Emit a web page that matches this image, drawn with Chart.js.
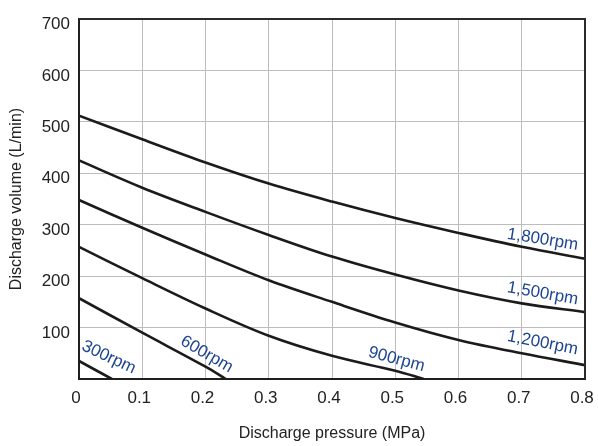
<!DOCTYPE html>
<html>
<head>
<meta charset="utf-8">
<script src="https://cdn.jsdelivr.net/npm/chart.js@4/dist/chart.umd.min.js"></script>
<style>
  html, body { margin: 0; padding: 0; background: #ffffff; }
  #wrap { width: 598px; height: 446px; position: relative; }
</style>
</head>
<body>
<div id="wrap"><canvas id="c" width="598" height="446"></canvas></div>
<script>
// Pump performance: discharge volume vs discharge pressure per shaft speed
const pressure = [0, 0.1, 0.2, 0.3, 0.4, 0.5, 0.6, 0.7, 0.8];
const volume1800 = [512, 466, 421, 380, 345, 313, 284, 257, 234];
const volume1500 = [425, 372, 325, 280, 238, 203, 172, 147, 130];
const volume1200 = [348, 294, 242, 192, 150, 110, 76, 50, 27];

const pressure900 = [0, 0.1, 0.2, 0.3, 0.4, 0.5, 0.545];
const volume900 = [257, 196, 137, 84, 45, 16, 0];

const pressure600 = [0, 0.1, 0.2, 0.232];
const volume600 = [157, 90, 24, 0];

const pressure300 = [0, 0.052];
const volume300 = [35, 0];

const speedNames = ['1,800rpm', '1,500rpm', '1,200rpm', '900rpm', '600rpm', '300rpm'];

const xTickLabels = ['0', '0.1', '0.2', '0.3', '0.4', '0.5', '0.6', '0.7', '0.8'];
const yTickLabels = ['', '100', '200', '300', '400', '500', '600', '700'];

// where each speed name sits along its curve (value units) and its slant in degrees
const nameAnchors = [
  { x: 0.733, y: 271, angle: 9 },
  { x: 0.733, y: 166, angle: 10 },
  { x: 0.733, y: 70, angle: 11 },
  { x: 0.502, y: 38, angle: 15 },
  { x: 0.202, y: 48, angle: 30 },
  { x: 0.047, y: 42, angle: 25 }
];

function toPoints(xs, ys) {
  return xs.map((x, i) => ({ x: x, y: ys[i] }));
}

const curves = [
  toPoints(pressure, volume1800),
  toPoints(pressure, volume1500),
  toPoints(pressure, volume1200),
  toPoints(pressure900, volume900),
  toPoints(pressure600, volume600),
  toPoints(pressure300, volume300)
];

const FONT = "'Liberation Sans', Arial, sans-serif";
const LINE = '#1b1b1b';
const NAME_COLOR = '#1d4590';

const speedNamePlugin = {
  id: 'speedNames',
  afterDatasetsDraw(chart) {
    const ctx = chart.ctx;
    const xs = chart.scales.x, ys = chart.scales.y;
    ctx.save();
    ctx.fillStyle = NAME_COLOR;
    ctx.font = '17px ' + FONT;
    ctx.textAlign = 'center';
    ctx.textBaseline = 'middle';
    nameAnchors.forEach((a, i) => {
      const px = xs.getPixelForValue(a.x);
      const py = ys.getPixelForValue(a.y);
      ctx.save();
      ctx.translate(px, py);
      ctx.rotate(a.angle * Math.PI / 180);
      ctx.fillText(speedNames[i], 0, 0);
      ctx.restore();
    });
    ctx.restore();
  }
};

const framePlugin = {
  id: 'frame',
  afterDatasetsDraw(chart) {
    const a = chart.chartArea;
    const ctx = chart.ctx;
    ctx.save();
    ctx.strokeStyle = '#2b2b2b';
    ctx.lineWidth = 2;
    ctx.beginPath();
    ctx.moveTo(a.left, a.top);
    ctx.lineTo(a.right, a.top);
    ctx.lineTo(a.right, a.bottom);
    ctx.stroke();
    ctx.restore();
  }
};

new Chart(document.getElementById('c'), {
  type: 'line',
  data: {
    datasets: curves.map((pts, i) => ({
      label: speedNames[i],
      data: pts,
      borderColor: LINE,
      borderWidth: 2.6,
      pointRadius: 0,
      fill: false,
      tension: 0.35
    }))
  },
  options: {
    responsive: false,
    animation: false,
    events: [],
    layout: { padding: { left: 0, right: 13, top: 19, bottom: 0 } },
    plugins: {
      legend: { display: false },
      tooltip: { enabled: false }
    },
    scales: {
      x: {
        type: 'linear',
        min: 0,
        max: 0.8,
        afterFit(scale) {
          scale.height = 67;
          scale.paddingLeft = 0;
          scale.paddingRight = 0;
        },
        afterBuildTicks(scale) {
          scale.ticks = xTickLabels.map((t, i) => ({ value: i * 0.1 }));
        },
        ticks: {
          callback: (v, i) => xTickLabels[i],
          color: '#222',
          font: { family: FONT, size: 17 },
          padding: 9,
          labelOffset: -3,
          maxRotation: 0,
          autoSkip: false
        },
        grid: { color: '#bdbdbd', lineWidth: 1, drawTicks: false },
        border: { display: true, color: '#1f1f1f', width: 2 },
        title: {
          display: true,
          text: 'Discharge pressure (MPa)',
          color: '#222',
          font: { family: FONT, size: 16 },
          padding: { top: 0, bottom: 3 }
        }
      },
      y: {
        type: 'linear',
        min: 0,
        max: 700,
        afterFit(scale) {
          scale.width = 79;
          scale.paddingTop = 0;
          scale.paddingBottom = 0;
        },
        afterBuildTicks(scale) {
          scale.ticks = yTickLabels.map((t, i) => ({ value: i * 100 }));
        },
        ticks: {
          callback: (v, i) => yTickLabels[i],
          color: '#222',
          font: { family: FONT, size: 17 },
          padding: 9,
          labelOffset: 5.5,
          autoSkip: false
        },
        grid: { color: '#bdbdbd', lineWidth: 1, drawTicks: false },
        border: { display: true, color: '#1f1f1f', width: 2 },
        title: {
          display: true,
          text: 'Discharge volume (L/min)',
          color: '#222',
          font: { family: FONT, size: 16 },
          padding: { top: 7, bottom: 0 }
        }
      }
    }
  },
  plugins: [speedNamePlugin, framePlugin]
});
</script>
</body>
</html>
